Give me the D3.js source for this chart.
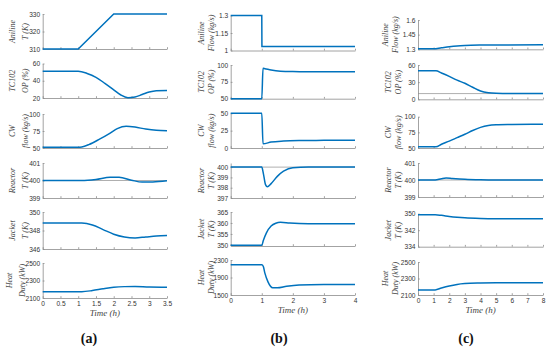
<!DOCTYPE html>
<html>
<head>
<meta charset="utf-8">
<script src="https://cdn.jsdelivr.net/npm/d3@7"></script>
<style>
  body { margin: 0; background: #fff; }
  svg { display: block; }
  .tick text { font-family: "Liberation Sans", Arial, sans-serif; font-size: 6.6px; fill: #333; }
  .domain, .tick line { stroke: #8c8c8c; stroke-width: 0.8; }
</style>
</head>
<body>
<svg id="chart" width="550" height="352"></svg>
<script>
// ---- data: [time (h), value] ----
// (a) aniline feed temperature step
const aAnilineT = [[0, 310], [1, 310], [2, 330], [3.5, 330]];
const aTC102 = [[0, 51], [1, 51], [1.25, 48.5], [1.5, 44], [1.75, 37], [2, 29.5], [2.2, 23.5], [2.4, 20.4], [2.6, 21.2], [2.8, 24], [3, 27], [3.2, 28.5], [3.5, 28.8]];
const aCW = [[0, 51], [1, 51], [1.1, 51.5], [1.3, 55], [1.6, 63], [1.9, 72], [2.1, 78.5], [2.35, 82], [2.6, 80.8], [2.9, 77.8], [3.2, 76], [3.5, 75.5]];
const aReactor = [[0, 400], [1.1, 400], [1.5, 400.06], [1.9, 400.18], [2.15, 400.18], [2.5, 400.02], [2.8, 399.91], [3.1, 399.92], [3.5, 399.98]];
const aJacket = [[0, 348.8], [1.1, 348.8], [1.4, 348.6], [1.7, 348.1], [2, 347.6], [2.3, 347.3], [2.6, 347.2], [2.9, 347.3], [3.2, 347.4], [3.5, 347.45]];
const aHeat = [[0, 2172], [1.1, 2172], [1.4, 2185], [1.7, 2205], [2, 2222], [2.3, 2230], [2.6, 2232], [3, 2226], [3.5, 2224]];

// (b) aniline flow step
const bAnilineF = [[0, 1.3], [1, 1.3], [1.005, 1.034], [4, 1.034]];
const bTC102 = [[0, 50], [1, 50], [1.04, 95], [1.1, 94.5], [1.3, 92.5], [1.6, 90.8], [2, 90.2], [2.5, 90], [4, 90]];
const bCW = [[0, 50], [1, 50], [1.04, 6], [1.3, 8.5], [1.7, 10], [2.2, 10.7], [3, 11], [4, 11]];
const bReactor = [[0, 400], [1, 400], [1.05, 399.4], [1.12, 398.3], [1.18, 398.1], [1.3, 398.4], [1.5, 399.1], [1.7, 399.6], [2, 399.95], [2.5, 400], [4, 400]];
const bJacket = [[0, 349.8], [1, 349.8], [1.05, 352], [1.15, 355.5], [1.3, 358.6], [1.45, 359.9], [1.6, 360.3], [1.9, 360], [2.5, 359.7], [4, 359.6]];
const bHeat = [[0, 2190], [1, 2190], [1.05, 2150], [1.1, 2000], [1.2, 1800], [1.35, 1665], [1.5, 1665], [1.8, 1700], [2.2, 1728], [3, 1738], [4, 1740]];

// (c) slow aniline flow change
const cAnilineF = [[0, 1.305], [1, 1.305], [1.5, 1.315], [2, 1.325], [2.5, 1.333], [3, 1.338], [4, 1.343], [5, 1.345], [8, 1.346]];
const cTC102 = [[0, 50], [1.15, 50], [1.5, 46], [2, 40], [2.5, 33.5], [3, 28], [3.5, 21], [4, 14.5], [4.5, 11.5], [5, 10.5], [6, 10.1], [8, 10]];
const cCW = [[0, 52], [1.15, 52], [1.5, 56], [2, 61], [2.5, 66.5], [3, 72], [3.5, 78], [4, 83], [4.5, 86], [5, 87], [6, 87.5], [8, 88]];
const cReactor = [[0, 400], [1.1, 400], [1.5, 400.08], [1.8, 400.12], [2.2, 400.09], [3, 400.04], [4, 400.01], [5, 400], [8, 400]];
const cJacket = [[0, 349.5], [1.1, 349.5], [1.5, 349.2], [2, 348.7], [2.5, 348.3], [3, 348], [4, 347.7], [5, 347.6], [8, 347.6]];
const cHeat = [[0, 2162], [1.1, 2162], [1.5, 2185], [2, 2210], [2.5, 2228], [3, 2238], [4, 2245], [5, 2248], [8, 2248]];

// reference (set-point / limit) lines, per panel, per row
const refA = [null, null, null, 400, null, null];
const refB = [null, null, null, 400, null, null];
const refC = [null, 10, null, 400, null, null];

// tick labels
const xTicksA = [0, 0.5, 1, 1.5, 2, 2.5, 3, 3.5];
const xTicksB = [0, 1, 2, 3, 4];
const xTicksC = [0, 1, 2, 3, 4, 5, 6, 7, 8];
const yTicksA = [[310, 320, 330], [20, 40, 60], [50, 75, 100], [399, 400, 401], [346, 348, 350], [2100, 2300, 2500]];
const yTicksB = [[1, 1.15, 1.3], [50, 75, 100], [0, 25, 50], [397, 398, 399, 400], [350, 355, 360, 365], [1500, 1900, 2300]];
const yTicksC = [[1.3, 1.45, 1.6], [0, 30, 60], [50, 75, 100], [399, 400, 401], [334, 342, 350], [2100, 2300, 2500]];
// y-axis limits where they go past the outer ticks
const yLimB = [null, null, null, [397, 400.4], [349.5, 365], null];

const labelsA = [["Aniline", "T (K)"], ["TC102", "OP (%)"], ["CW", "flow (kg/s)"], ["Reactor", "T (K)"], ["Jacket", "T (K)"], ["Heat", "Duty (kW)"]];
const labelsBC = [["Aniline", "Flow (kg/s)"], ["TC102", "OP (%)"], ["CW", "flow (kg/s)"], ["Reactor", "T (K)"], ["Jacket", "T (K)"], ["Heat", "Duty (kW)"]];

// ---- layout ----
const panels = [
    {
        tag: "(a)", series: [aAnilineT, aTC102, aCW, aReactor, aJacket, aHeat],
        xMax: 3.5, xTicks: xTicksA, yTicks: yTicksA, yLim: [], refs: refA, labels: labelsA,
        x0: 42.7, x1: 167,
        tops: [14, 63.5, 114, 163, 212, 263], bottoms: [49, 98, 148, 198, 249, 298],
        labOff: [-31, -18], wideShift: -3, tagX: 89
    },
    {
        tag: "(b)", series: [bAnilineF, bTC102, bCW, bReactor, bJacket, bHeat],
        xMax: 4, xTicks: xTicksB, yTicks: yTicksB, yLim: yLimB, refs: refB, labels: labelsBC,
        x0: 230.7, x1: 355,
        tops: [15.5, 65, 113.3, 163, 212, 260], bottoms: [50.5, 98.7, 148, 198, 246, 295],
        labOff: [-30, -20], wideShift: 0, tagX: 279
    },
    {
        tag: "(c)", series: [cAnilineF, cTC102, cCW, cReactor, cJacket, cHeat],
        xMax: 8, xTicks: xTicksC, yTicks: yTicksC, yLim: [], refs: refC, labels: labelsBC,
        x0: 418, x1: 543,
        tops: [20, 65, 116.7, 163, 213.7, 262], bottoms: [49.3, 99.3, 148, 197, 246.7, 295],
        labOff: [-30, -20], wideShift: -2.5, tagX: 466
    }
];

// ramps and steps are drawn straight, the rest smooth
const straight = new Set([aAnilineT, bAnilineF]);

const svg = d3.select("#chart");
const serif = '"Liberation Serif", "DejaVu Serif", serif';

panels.forEach(p => {
    const x = d3.scaleLinear().domain([0, p.xMax]).range([p.x0, p.x1]);

    p.series.forEach((data, i) => {
        const ticks = p.yTicks[i];
        const lim = p.yLim[i] || [ticks[0], ticks[ticks.length - 1]];
        const y = d3.scaleLinear().domain(lim).range([p.bottoms[i], p.tops[i]]);
        const last = i === p.series.length - 1;

        // reference line (grey)
        if (p.refs[i] !== null) {
            svg.append("line")
                .attr("x1", p.x0).attr("x2", p.x1)
                .attr("y1", y(p.refs[i])).attr("y2", y(p.refs[i]))
                .attr("stroke", "#9a9a9a").attr("stroke-width", 0.8);
        }

        // x axis, ticks inward
        svg.append("g")
            .attr("transform", `translate(0,${p.bottoms[i]})`)
            .call(d3.axisBottom(x).tickValues(p.xTicks)
                .tickSizeInner(-1.8).tickSizeOuter(0).tickPadding(3)
                .tickFormat(last ? d3.format("") : () => ""));

        // y axis
        svg.append("g")
            .attr("transform", `translate(${p.x0},0)`)
            .call(d3.axisLeft(y).tickValues(ticks)
                .tickSizeInner(-1.8).tickSizeOuter(0).tickPadding(2.5)
                .tickFormat(d3.format("")));

        // the response curve
        const line = d3.line()
            .x(d => x(d[0]))
            .y(d => y(d[1]))
            .curve(straight.has(data) ? d3.curveLinear : d3.curveMonotoneX);
        svg.append("path")
            .datum(data)
            .attr("d", line)
            .attr("fill", "none")
            .attr("stroke", "#0072BD")
            .attr("stroke-width", 1.5);

        // two-line italic y label; pushed left a little beside 4-digit ticks
        const yc = (p.tops[i] + p.bottoms[i]) / 2;
        const wide = d3.max(ticks, t => String(t).length) >= 4 ? p.wideShift : 0;
        p.labels[i].forEach((txt, k) => {
            const lx = p.x0 + p.labOff[k] + wide;
            svg.append("text")
                .attr("transform", `translate(${lx},${yc}) rotate(-90)`)
                .attr("text-anchor", "middle")
                .attr("dy", "0.35em")
                .attr("font-family", serif)
                .attr("font-style", "italic")
                .attr("font-size", 8)
                .attr("fill", "#444")
                .text(txt);
        });
    });

    const yb = p.bottoms[p.bottoms.length - 1];
    svg.append("text")
        .attr("x", (p.x0 + p.x1) / 2)
        .attr("y", yb + 15)
        .attr("dy", "0.35em")
        .attr("text-anchor", "middle")
        .attr("font-family", serif)
        .attr("font-style", "italic")
        .attr("font-size", 9)
        .attr("fill", "#444")
        .text("Time (h)");

    svg.append("text")
        .attr("x", p.tagX)
        .attr("y", 338)
        .attr("dy", "0.35em")
        .attr("text-anchor", "middle")
        .attr("font-family", serif)
        .attr("font-weight", "bold")
        .attr("font-size", 14)
        .attr("fill", "#111")
        .text(p.tag);
});
</script>
</body>
</html>
